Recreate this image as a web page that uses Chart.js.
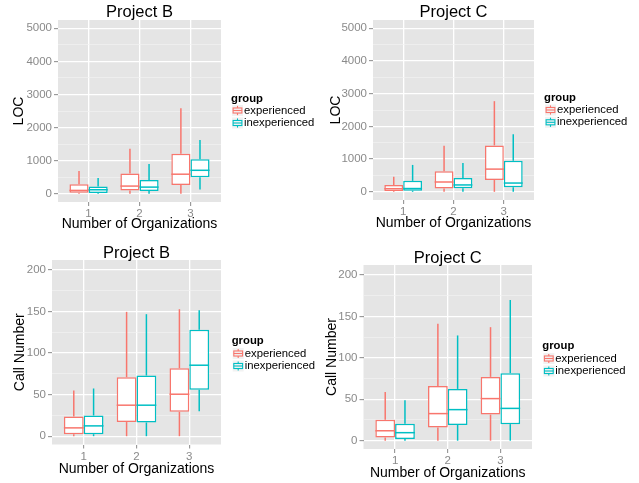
<!DOCTYPE html>
<html>
<head>
<meta charset="utf-8">
<script src="https://cdn.jsdelivr.net/npm/chart.js@4.4.1/dist/chart.umd.min.js"></script>
<style>
html,body{margin:0;padding:0;background:#ffffff;width:639px;height:483px;overflow:hidden}
canvas{position:absolute}
</style>
</head>
<body>
<canvas id="c1" width="320" height="240" style="left:0px;top:0px"></canvas>
<canvas id="c2" width="319" height="240" style="left:320px;top:0px"></canvas>
<canvas id="c3" width="320" height="243" style="left:0px;top:240px"></canvas>
<canvas id="c4" width="319" height="243" style="left:320px;top:240px"></canvas>
<script>
// ---------- data ----------
const categories = [1, 2, 3];
const groupNames = ['experienced', 'inexperienced'];
const xAxisTitle = 'Number of Organizations';

const locMajorTicks = [0, 1000, 2000, 3000, 4000, 5000];
const locMinorTicks = [500, 1500, 2500, 3500, 4500];
const callMajorTicks = [0, 50, 100, 150, 200];
const callMinorTicks = [25, 75, 125, 175];

// five-number summary per category: [lower whisker, Q1, median, Q3, upper whisker]
const locB_experienced   = [[0, 30, 100, 290, 690], [0, 100, 231, 610, 1360], [0, 265, 590, 1205, 2580]];
const locB_inexperienced = [[0, 25, 120, 220, 475], [0, 85, 200, 415, 900],   [130, 500, 708, 1040, 1620]];
const locC_experienced   = [[0, 25, 95, 208, 462],  [0, 101, 300, 630, 1405], [0, 360, 694, 1418, 2770]];
const locC_inexperienced = [[0, 35, 100, 335, 822], [0, 112, 210, 420, 884],  [0, 143, 268, 949, 1760]];
const callB_experienced   = [[0, 2.4, 10, 23.7, 55],   [0, 17, 37.3, 71, 149.6], [0, 29.3, 50.5, 81.8, 152.8]];
const callB_inexperienced = [[0, 2.4, 12.4, 24.9, 57.4], [0, 16.5, 37.3, 73, 146.8], [30, 55.8, 85.4, 128, 151.6]];
const callC_experienced   = [[0, 4, 12, 25.4, 58.9],  [0, 16, 32.7, 66, 141],   [0, 31.5, 50.8, 77, 137]];
const callC_inexperienced = [[0, 2, 9.7, 20.6, 48.8], [0, 19, 37.5, 62.5, 127], [0, 20, 39, 81.5, 169.8]];

// ---------- styling / layout ----------
const FONT = '"Liberation Sans", Arial, Helvetica, sans-serif';
const groupColors = ['#F8766D', '#00BFC4'];
const TICK_COLOR = '#8A8A8A';
const TICK_SIZE = 11.5, AXIS_TITLE_SIZE = 14, TITLE_SIZE = 16.5, LEGEND_SIZE = 11.3;
const LINE_W = 1.5;

const panels = [
  { id: 'c1', title: 'Project B', yTitle: 'LOC', ymin: -250, ymax: 5250,
    major: locMajorTicks, minor: locMinorTicks, series: [locB_experienced, locB_inexperienced],
    area: {left: 58, right: 221, top: 20, bottom: 202}, titleY: 12, yTitleX: 19, xTitleY: 224,
    legend: {x: 231, titleY: 98.5, rows: [110.5, 123]} },
  { id: 'c2', title: 'Project C', yTitle: 'LOC', ymin: -250, ymax: 5250,
    major: locMajorTicks, minor: locMinorTicks, series: [locC_experienced, locC_inexperienced],
    area: {left: 53, right: 214, top: 20, bottom: 200}, titleY: 12, yTitleX: 16, xTitleY: 223,
    legend: {x: 224, titleY: 97.7, rows: [110, 122.3]} },
  { id: 'c3', title: 'Project B', yTitle: 'Call Number', ymin: -10, ymax: 212,
    major: callMajorTicks, minor: callMinorTicks, series: [callB_experienced, callB_inexperienced],
    area: {left: 52, right: 221, top: 20, bottom: 204.5}, titleY: 13, yTitleX: 20, xTitleY: 229,
    legend: {x: 231.7, titleY: 100.5, rows: [113.5, 126]} },
  { id: 'c4', title: 'Project C', yTitle: 'Call Number', ymin: -10, ymax: 212,
    major: callMajorTicks, minor: callMinorTicks, series: [callC_experienced, callC_inexperienced],
    area: {left: 43.5, right: 212, top: 25, bottom: 209}, titleY: 18, yTitleX: 12, xTitleY: 233,
    legend: {x: 222.3, titleY: 106, rows: [118.5, 131]} }
];

function strokeLine(ctx, x1, y1, x2, y2) {
  ctx.beginPath(); ctx.moveTo(x1, y1); ctx.lineTo(x2, y2); ctx.stroke();
}

function panelPlugin(cfg) {
  return {
    id: 'panel_' + cfg.id,
    beforeDraw(chart) {
      const {ctx, chartArea: a} = chart;
      ctx.save();
      ctx.fillStyle = '#E5E5E5';
      ctx.fillRect(a.left, a.top, a.right - a.left, a.bottom - a.top);
      ctx.restore();
    },
    afterDatasetsDraw(chart) {
      const ctx = chart.ctx, ys = chart.scales.y;
      ctx.save();
      ctx.lineWidth = LINE_W;
      chart.data.datasets.forEach((ds, di) => {
        const meta = chart.getDatasetMeta(di);
        meta.data.forEach((bar, i) => {
          const f = ds.summary[i];
          const half = bar.width / 2;
          ctx.strokeStyle = ds.borderColor;
          strokeLine(ctx, bar.x, ys.getPixelForValue(f[0]), bar.x, ys.getPixelForValue(f[1]));
          strokeLine(ctx, bar.x, ys.getPixelForValue(f[3]), bar.x, ys.getPixelForValue(f[4]));
          const my = ys.getPixelForValue(f[2]);
          strokeLine(ctx, bar.x - half, my, bar.x + half, my);
        });
      });
      ctx.restore();
    },
    afterDraw(chart) {
      const ctx = chart.ctx, a = chart.chartArea, L = cfg.legend;
      ctx.save();
      // title
      ctx.fillStyle = '#000000';
      ctx.textAlign = 'center';
      ctx.textBaseline = 'middle';
      ctx.font = TITLE_SIZE + 'px ' + FONT;
      ctx.fillText(cfg.title, (a.left + a.right) / 2, cfg.titleY);
      // legend
      ctx.textAlign = 'left';
      ctx.font = 'bold ' + LEGEND_SIZE + 'px ' + FONT;
      ctx.fillText('group', L.x, L.titleY);
      ctx.font = LEGEND_SIZE + 'px ' + FONT;
      groupNames.forEach((name, gi) => {
        const cy = L.rows[gi];
        const ks = 11, kx = L.x + 1, ky = cy - ks / 2;
        ctx.fillStyle = '#F2F2F2';
        ctx.fillRect(kx, ky, ks, ks);
        ctx.strokeStyle = groupColors[gi];
        ctx.lineWidth = 1.1;
        ctx.strokeRect(kx + ks * 0.1, ky + ks * 0.27, ks * 0.8, ks * 0.46);
        strokeLine(ctx, kx + ks * 0.1, cy, kx + ks * 0.9, cy);
        strokeLine(ctx, kx + ks / 2, ky + ks * 0.08, kx + ks / 2, ky + ks * 0.27);
        strokeLine(ctx, kx + ks / 2, ky + ks * 0.73, kx + ks / 2, ky + ks * 0.92);
        ctx.fillStyle = '#000000';
        ctx.fillText(name, L.x + 13, cy);
      });
      ctx.restore();
    }
  };
}

function makePanel(cfg) {
  const canvas = document.getElementById(cfg.id);
  const W = canvas.width, H = canvas.height, a = cfg.area;
  const allTicks = cfg.major.concat(cfg.minor).sort((p, q) => p - q);
  const isMajor = v => cfg.major.indexOf(v) !== -1;
  const halfLine = AXIS_TITLE_SIZE * 1.2 / 2;
  const datasets = cfg.series.map((s, gi) => ({
    label: groupNames[gi],
    data: s.map((f, ci) => ({x: categories[ci], y: [f[1], f[3]]})),
    summary: s,
    backgroundColor: '#FFFFFF',
    borderColor: groupColors[gi],
    borderWidth: LINE_W,
    borderSkipped: false,
    categoryPercentage: 0.75,
    barPercentage: 1.0
  }));
  new Chart(canvas, {
    type: 'bar',
    data: {datasets},
    options: {
      responsive: false,
      animation: false,
      devicePixelRatio: 1,
      events: [],
      layout: {padding: {left: 0, top: a.top, right: W - a.right, bottom: 0}},
      plugins: {legend: {display: false}, title: {display: false}, tooltip: {enabled: false}},
      scales: {
        x: {
          type: 'linear', min: 0.4, max: 3.6, offset: false,
          afterBuildTicks: s => { s.ticks = categories.map(v => ({value: v})); },
          afterFit: s => { s.height = H - a.bottom; },
          grid: {offset: false, color: '#FFFFFF', lineWidth: 1.3, tickLength: 4, tickColor: TICK_COLOR, tickWidth: 1},
          border: {display: false},
          ticks: {color: TICK_COLOR, font: {family: FONT, size: TICK_SIZE}, padding: 1,
                  autoSkip: false, maxRotation: 0, callback: v => String(v)},
          title: {display: true, text: xAxisTitle, color: '#000000',
                  font: {family: FONT, size: AXIS_TITLE_SIZE},
                  padding: {top: 0, bottom: (H - cfg.xTitleY) - halfLine}}
        },
        y: {
          type: 'linear', min: cfg.ymin, max: cfg.ymax, beginAtZero: false,
          afterBuildTicks: s => { s.ticks = allTicks.map(v => ({value: v})); },
          afterFit: s => { s.width = a.left; },
          grid: {
            color: c => (c.tick && isMajor(c.tick.value)) ? '#FFFFFF' : '#F2F2F2',
            lineWidth: c => (c.tick && isMajor(c.tick.value)) ? 1.3 : 0.7,
            tickColor: c => (c.tick && isMajor(c.tick.value)) ? TICK_COLOR : 'rgba(0,0,0,0)',
            tickLength: 4, tickWidth: 1
          },
          border: {display: false},
          ticks: {color: TICK_COLOR, font: {family: FONT, size: TICK_SIZE}, padding: 2,
                  autoSkip: false, callback: v => isMajor(v) ? String(v) : ''},
          title: {display: true, text: cfg.yTitle, color: '#000000',
                  font: {family: FONT, size: AXIS_TITLE_SIZE},
                  padding: {top: cfg.yTitleX - halfLine, bottom: 0}}
        }
      }
    },
    plugins: [panelPlugin(cfg)]
  });
}

panels.forEach(makePanel);
</script>
</body>
</html>
